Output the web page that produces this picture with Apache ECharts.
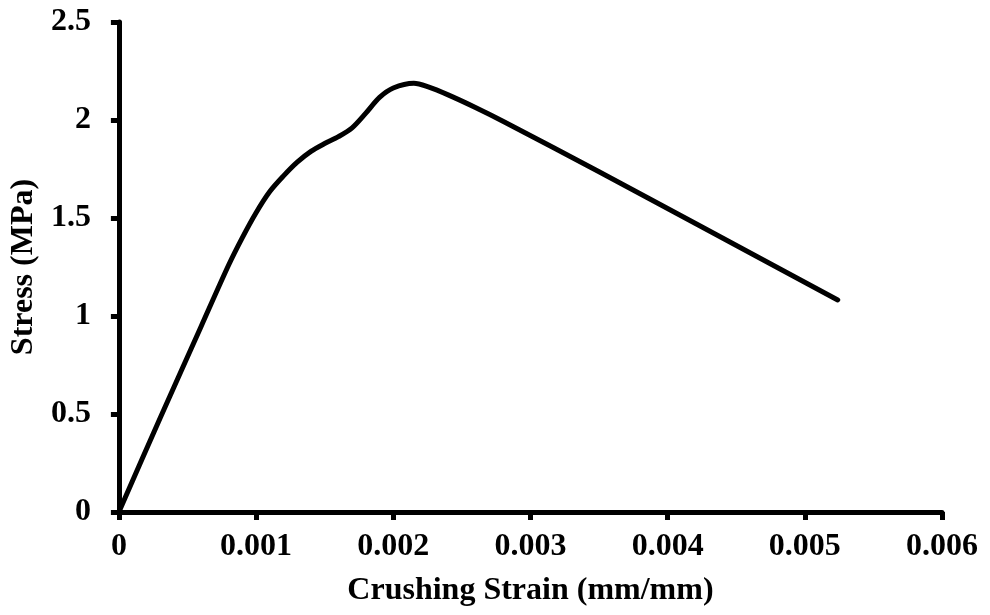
<!DOCTYPE html>
<html>
<head>
<meta charset="utf-8">
<script src="https://cdn.jsdelivr.net/npm/echarts@6/dist/echarts.min.js"></script>
<style>
  html, body { margin: 0; padding: 0; background: #fff; }
  #chart { width: 990px; height: 615px; }
</style>
</head>
<body>
<div id="chart"></div>
<script>
// 应变 (mm/mm)
var strain = [0, 0.0003, 0.0006, 0.0008, 0.0009, 0.001, 0.0011, 0.0012, 0.0013, 0.0014,
  0.0015, 0.0016, 0.0017, 0.0018, 0.0019, 0.002, 0.00215, 0.00225, 0.0024, 0.00261,
  0.00281, 0.0035, 0.0042, 0.00524];
// 应力 (MPa)
var stress = [0, 0.478, 0.948, 1.26, 1.40, 1.527, 1.635, 1.715, 1.785, 1.84,
  1.88, 1.915, 1.96, 2.035, 2.115, 2.163, 2.187, 2.17, 2.128, 2.06,
  1.99, 1.736, 1.473, 1.082];

var xTicks = ['0', '0.001', '0.002', '0.003', '0.004', '0.005', '0.006'];

var font = "'Liberation Serif', 'Times New Roman', serif";

var chart = echarts.init(document.getElementById('chart'));

var points = [];
for (var i = 0; i < strain.length; i++) {
  points.push([strain[i], stress[i]]);
}

var axisLine = { show: true, lineStyle: { color: '#000', width: 5 } };
var axisTick = { show: true, inside: false, length: 8, lineStyle: { color: '#000', width: 5 } };

var option = {
  animation: false,
  backgroundColor: '#fff',
  grid: { left: 118, right: 48, top: 22, bottom: 103 },
  xAxis: {
    type: 'value',
    min: 0,
    max: 0.006,
    interval: 0.001,
    name: 'Crushing Strain (mm/mm)',
    nameLocation: 'middle',
    nameGap: 63,
    nameTextStyle: { color: '#000', fontFamily: font, fontWeight: 'bold', fontSize: 32 },
    axisLine: axisLine,
    axisTick: axisTick,
    splitLine: { show: false },
    axisLabel: {
      margin: 19,
      color: '#000',
      fontFamily: font,
      fontWeight: 'bold',
      fontSize: 32,
      formatter: function (v) { return xTicks[Math.round(v / 0.001)]; }
    }
  },
  yAxis: {
    type: 'value',
    min: 0,
    max: 2.5,
    interval: 0.5,
    name: 'Stress (MPa)',
    nameLocation: 'middle',
    nameGap: 74,
    nameTextStyle: { color: '#000', fontFamily: font, fontWeight: 'bold', fontSize: 32 },
    axisLine: axisLine,
    axisTick: axisTick,
    splitLine: { show: false },
    axisLabel: {
      margin: 28,
      color: '#000',
      fontFamily: font,
      fontWeight: 'bold',
      fontSize: 32
    }
  },
  series: [{
    type: 'line',
    data: points,
    smooth: 0.3,
    showSymbol: false,
    lineStyle: { color: '#000', width: 5, cap: 'round', join: 'round' }
  }]
};

chart.setOption(option);
</script>
</body>
</html>
